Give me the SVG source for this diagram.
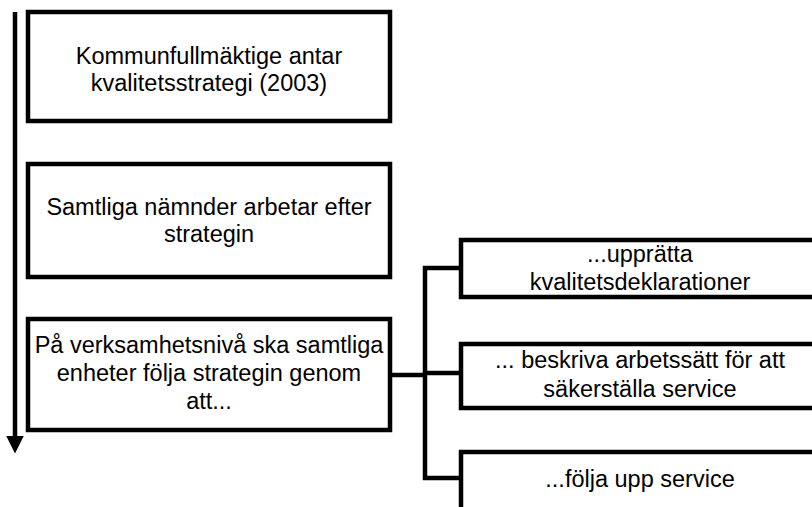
<svg xmlns="http://www.w3.org/2000/svg" width="812" height="507" viewBox="0 0 812 507">
<style>
.box{fill:#fff;stroke:#000;stroke-width:4.5}
.t{font-family:"Liberation Sans",Arial,sans-serif;font-size:23.5px;fill:#000;text-anchor:middle}
.c{fill:none;stroke:#000;stroke-width:4.5}
</style>
<defs>
<marker id="ah" markerWidth="4" markerHeight="4" refX="1" refY="2" orient="auto" markerUnits="strokeWidth">
<path d="M0,0 L4,2 L0,4 Z" fill="#000"/>
</marker>
</defs>
<rect width="812" height="507" fill="#fff"/>
<g id="connectors">
<line class="c" x1="15" y1="12" x2="15" y2="440" marker-end="url(#ah)" stroke-width="4"/>
<polyline class="c" points="390,375 425,375"/>
<polyline class="c" points="460,268 425,268 425,478 460,478"/>
<polyline class="c" points="425,373 460,373"/>
</g>
<g id="n1">
<rect class="box" x="28" y="12" width="362" height="109"/>
<text class="t" x="209" y="64">Kommunfullmäktige antar</text>
<text class="t" x="209" y="91">kvalitetsstrategi (2003)</text>
</g>
<g id="n2">
<rect class="box" x="28" y="164" width="362" height="113"/>
<text class="t" x="209" y="215">Samtliga nämnder arbetar efter</text>
<text class="t" x="209" y="242">strategin</text>
</g>
<g id="n3">
<rect class="box" x="28" y="319" width="362" height="111"/>
<text class="t" x="209" y="353">På verksamhetsnivå ska samtliga</text>
<text class="t" x="209" y="381">enheter följa strategin genom</text>
<text class="t" x="209" y="409">att...</text>
</g>
<g id="r1">
<rect class="box" x="461" y="240" width="360" height="57"/>
<text class="t" x="640" y="262">...upprätta</text>
<text class="t" x="640" y="290">kvalitetsdeklarationer</text>
</g>
<g id="r2">
<rect class="box" x="461" y="344" width="360" height="64"/>
<text class="t" x="640" y="368">... beskriva arbetssätt för att</text>
<text class="t" x="640" y="397">säkerställa service</text>
</g>
<g id="r3">
<rect class="box" x="461" y="452" width="360" height="70"/>
<text class="t" x="640" y="487">...följa upp service</text>
</g>
</svg>
